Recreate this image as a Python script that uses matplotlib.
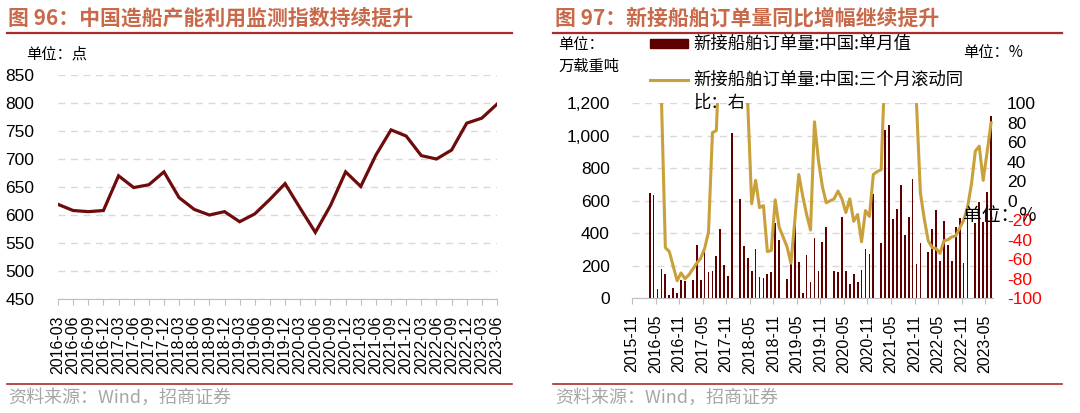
import numpy as np
import pandas as pd
import matplotlib
matplotlib.use("Agg")
import matplotlib.pyplot as plt
from matplotlib.ticker import StrMethodFormatter
from matplotlib.lines import Line2D
from matplotlib.patches import Rectangle

plt.rcParams['font.family'] = ['Liberation Sans', 'Noto Sans CJK SC']

# ---------------- data: left chart ----------------
left_quarters = ['2016-03', '2016-06', '2016-09', '2016-12', '2017-03', '2017-06', '2017-09', '2017-12',
                 '2018-03', '2018-06', '2018-09', '2018-12', '2019-03', '2019-06', '2019-09', '2019-12',
                 '2020-03', '2020-06', '2020-09', '2020-12', '2021-03', '2021-06', '2021-09', '2021-12',
                 '2022-03', '2022-06', '2022-09', '2022-12', '2023-03', '2023-06']
capacity_index = [619, 608, 606, 608, 670, 649, 654, 677,
                  631, 610, 600, 606, 588, 602, 628, 656,
                  612, 569, 617, 677, 651, 707, 752, 741,
                  706, 700, 716, 764, 773, 798]

# ---------------- data: right chart ----------------
right_months = [d.strftime('%Y-%m') for d in pd.date_range('2015-11-01', '2023-06-01', freq='MS')]
nan = np.nan
monthly_orders = [nan, nan, nan, nan, 645, 637, 57, 179, 148, 18,
                  63, 30, 112, 108, nan, 112, 331, 112, 310, 163,
                  171, 260, 427, 203, 136, 1015, nan, 614, 323, 248,
                  167, 303, 132, 128, 148, 161, 462, 358, nan, 116,
                  210, 488, 222, 35, 264, 102, 374, 171, 346, 439,
                  nan, 167, 159, 498, 171, 89, 148, 102, 177, 303,
                  273, 641, nan, 342, 1037, 1066, 486, 551, 698, 388,
                  502, 732, 214, 342, nan, 283, 427, 545, 230, 478,
                  325, 232, 437, 494, 218, 540, nan, 462, 594, 468,
                  655, 1123]
rolling_yoy = [nan, nan, nan, nan, nan, nan, 600, 105, -48, -52,
               -67, -82, -74, -80, -76, -70, -64, -59, -49, -32,
               70, 72, 180, 250, 300, 280, 230, 180, 130, 100,
               -3, 21, -7, -5, -52, -51, 1, -27, -37, -47,
               -64, -20, 27, 5, -14, -30, 81, 42, 15, -2,
               0, 2, 10, 2, -12, 2, -21, -14, -42, -10,
               -16, 27, 30, 32, 145, 400, 600, 500, 350, 250,
               180, 140, 100, 8, -19, -41, -48, -49, -54, -41,
               -40, -37, -36, -28, -20, -7, 17, 51, 56, 21,
               50, 80]
left_ticks_right = [0, 200, 400, 600, 800, 1000, 1200]
right_ticks = [-100, -80, -60, -40, -20, 0, 20, 40, 60, 80, 100]

W, H = 1080, 413
fig = plt.figure(figsize=(W / 100, H / 100), dpi=100)


def fx(px):
    return px / W


def fy(py):
    return 1 - py / H


TITLE_C = '#c8694a'
RULE_C = '#a92a2a'
GRID_C = '#d9d9d9'
AXIS_C = '#bfbfbf'
LINE_C = '#6e0b0b'
BAR_C = '#5e0000'
GOLD_C = '#c9a03a'
CJK = ['Noto Sans CJK SC', 'Liberation Sans']

# ---------------- header / footer decorations ----------------
for x0, x1 in [(7, 512), (553, 1062)]:
    fig.add_artist(Line2D([fx(x0), fx(x1)], [fy(32.5), fy(32.5)], color=RULE_C, lw=1.6))
    fig.add_artist(Line2D([fx(x0), fx(x1)], [fy(384), fy(384)], color=RULE_C, lw=1.2))

fig.text(fx(8), fy(18), '图 96：中国造船产能利用监测指数持续提升', fontsize=15, fontweight='bold',
         color=TITLE_C, va='center', ha='left', family=CJK)
fig.text(fx(555), fy(18), '图 97：新接船舶订单量同比增幅继续提升', fontsize=15, fontweight='bold',
         color=TITLE_C, va='center', ha='left', family=CJK)
fig.text(fx(8), fy(398), '资料来源：Wind，招商证券', fontsize=13, color='#a6a6a6', va='center',
         ha='left', family=CJK)
fig.text(fx(555), fy(398), '资料来源：Wind，招商证券', fontsize=13, color='#a6a6a6', va='center',
         ha='left', family=CJK)

# ---------------- left chart ----------------
ax = fig.add_axes([fx(58), fy(299), fx(497) - fx(58), fy(75) - fy(299)])
xl = np.arange(len(left_quarters))
ax.plot(xl, capacity_index, color=LINE_C, lw=2.3, solid_joinstyle='miter')
ax.set_xlim(0, len(left_quarters) - 1)
ax.set_ylim(450, 850)
ax.set_yticks(np.arange(450, 851, 50))
ax.set_xticks(xl)
ax.set_xticklabels(left_quarters, rotation=90, fontsize=11.5)
ax.tick_params(axis='y', length=0, labelsize=12.5, pad=17)
ax.tick_params(axis='x', length=4, color=AXIS_C, pad=8)
for s in ['top', 'right', 'left']:
    ax.spines[s].set_visible(False)
ax.spines['bottom'].set_color(AXIS_C)
ax.yaxis.grid(True, linestyle=(0, (5, 4)), color=GRID_C, lw=1)
ax.set_axisbelow(True)
fig.text(fx(26), fy(54), '单位：点', fontsize=11, va='center', ha='left', family=CJK)

# ---------------- right chart ----------------
axr = fig.add_axes([fx(632), fy(298.3), fx(993) - fx(632), fy(103.3) - fy(298.3)])
xr = np.arange(len(right_months)) + 0.5
axr.bar(xr, monthly_orders, width=0.45, color=BAR_C, zorder=2)
axr.set_xlim(0, len(right_months))
axr.set_ylim(0, 1200)
axr.set_yticks(left_ticks_right)
axr.yaxis.set_major_formatter(StrMethodFormatter('{x:,.0f}'))
tick_idx = np.arange(0, len(right_months), 6)
axr.set_xticks(tick_idx)
axr.set_xticklabels([right_months[i] for i in tick_idx], rotation=90, fontsize=11.5)
axr.tick_params(axis='y', length=0, labelsize=12.5, pad=16)
axr.tick_params(axis='x', length=4, color=AXIS_C, pad=8)
for s in ['top', 'right', 'left']:
    axr.spines[s].set_visible(False)
axr.spines['bottom'].set_color(AXIS_C)
axr.yaxis.grid(True, linestyle=(0, (5, 4)), color=GRID_C, lw=1)
axr.set_axisbelow(True)

ax2 = axr.twinx()
ax2.plot(xr, rolling_yoy, color=GOLD_C, lw=2.2, zorder=3)
ax2.set_ylim(-100, 100)
ax2.set_yticks(right_ticks)
ax2.set_yticklabels([str(v) for v in right_ticks])
ax2.tick_params(axis='y', length=0, labelsize=12.5, pad=10)
for lab, v in zip(ax2.get_yticklabels(), right_ticks):
    lab.set_color('#ff0000' if v < 0 else 'black')
for s in ['top', 'right', 'left', 'bottom']:
    ax2.spines[s].set_visible(False)

# unit labels
fig.text(fx(558), fy(45), '单位：', fontsize=11, va='center', ha='left', family=CJK)
fig.text(fx(558), fy(66), '万载重吨', fontsize=11, va='center', ha='left', family=CJK)
fig.text(fx(963), fy(53), '单位：%', fontsize=11, va='center', ha='left', family=CJK)
fig.text(fx(963), fy(216), '单位：%', fontsize=13.5, va='center', ha='left', family=CJK, zorder=10)

# legend (manual)
fig.add_artist(Rectangle((fx(650), fy(47.5)), fx(688) - fx(650), fy(39) - fy(47.5),
                         color=BAR_C, transform=fig.transFigure))
fig.add_artist(Line2D([fx(650), fx(688)], [fy(80), fy(80)], color=GOLD_C, lw=2.2))
fig.text(fx(693), fy(44), '新接船舶订单量:中国:单月值', fontsize=12.5, va='center', ha='left', family=CJK)
fig.text(fx(693), fy(80), '新接船舶订单量:中国:三个月滚动同', fontsize=12.5, va='center', ha='left',
         family=CJK)
fig.text(fx(693), fy(103), '比：右', fontsize=12.5, va='center', ha='left', family=CJK, zorder=10)

fig.savefig('out.png', dpi=100)
